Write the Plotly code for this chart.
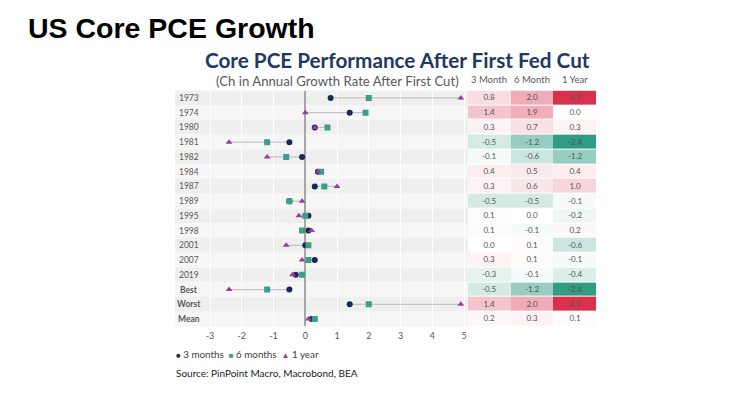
import plotly.graph_objects as go

rows = ["1973", "1974", "1980", "1981", "1982", "1984", "1987", "1989",
        "1995", "1998", "2001", "2007", "2019", "Best", "Worst", "Mean"]
m3 = [0.8, 1.4, 0.3, -0.5, -0.1, 0.4, 0.3, -0.5, 0.1, 0.1, 0.0, 0.3, -0.3, -0.5, 1.4, 0.2]
m6 = [2.0, 1.9, 0.7, -1.2, -0.6, 0.5, 0.6, -0.5, 0.0, -0.1, 0.1, 0.1, -0.1, -1.2, 2.0, 0.3]
y1 = [4.9, 0.0, 0.3, -2.4, -1.2, 0.4, 1.0, -0.1, -0.2, 0.2, -0.6, -0.1, -0.4, -2.4, 4.9, 0.1]
col_labels = ["3 Month", "6 Month", "1 Year"]
x_ticks = [-3, -2, -1, 0, 1, 2, 3, 4, 5]

OFF = 8  # browser default body margin
W, H = 730 - OFF, 397 - OFF
def px(x): return (x - OFF) / W
def py(y): return 1 - (y - OFF) / H

NAVY = "#1b2656"
TEAL = "#3a9f86"
PURPLE = "#973c9c"
FONT = "Lato"

idx = list(range(len(rows)))
fig = go.Figure()

# connecting lines
lx, ly = [], []
for i in idx:
    vals = [m3[i], m6[i], y1[i]]
    lx += [min(vals), max(vals), None]
    ly += [i, i, None]
fig.add_trace(go.Scatter(x=lx, y=ly, mode="lines", line=dict(color="#c4c4c4", width=1.3),
                         hoverinfo="skip", showlegend=False))
fig.add_trace(go.Scatter(x=m3, y=idx, mode="markers", name="3 months",
                         marker=dict(symbol="circle", size=6, color=NAVY), showlegend=False))
fig.add_trace(go.Scatter(x=m6, y=idx, mode="markers", name="6 months",
                         marker=dict(symbol="square", size=6, color=TEAL), showlegend=False))
fig.add_trace(go.Scatter(x=y1, y=idx, mode="markers", name="1 year",
                         marker=dict(symbol="triangle-up", size=6, color=PURPLE), showlegend=False))

# heatmap table
z = [[m3[i], m6[i], y1[i]] for i in idx]
txt = [[f"{v:.1f}" for v in r] for r in z]
zmin, zmax = -2.4, 4.9
mid = (0 - zmin) / (zmax - zmin)
fig.add_trace(go.Heatmap(
    z=z, x=[0, 1, 2], y=idx, xaxis="x2", yaxis="y",
    text=txt, texttemplate="%{text}", textfont=dict(size=8, color="#555555", family=FONT),
    colorscale=[[0, "#2f9c83"], [mid, "#ffffff"], [1, "#d9304c"]],
    zmin=zmin, zmax=zmax, showscale=False, xgap=0, ygap=1, hoverinfo="skip"))

# background bands
shapes = []
top, bot = 90.6, 326.4
rh = (bot - top) / len(rows)
for i in idx:
    shapes.append(dict(type="rect", xref="paper", yref="paper", layer="below",
                       x0=px(175), x1=px(468), y0=py(top + (i + 1) * rh), y1=py(top + i * rh),
                       fillcolor="#efefef" if i % 2 == 0 else "#f6f6f6", line=dict(width=0)))

annotations = []
for i, r in enumerate(rows):
    bold = r in ("Best", "Worst", "Mean")
    annotations.append(dict(x=px(189), y=py(top + (i + 0.5) * rh), xref="paper", yref="paper",
                            text=f"<b>{r}</b>" if bold else r, showarrow=False,
                            xanchor="center", yanchor="middle",
                            font=dict(size=8.5, color="#595959", family=FONT)))
for j, c in enumerate(col_labels):
    annotations.append(dict(x=j, y=py(79), xref="x2", yref="paper", text=c, showarrow=False,
                            xanchor="center", yanchor="middle",
                            font=dict(size=9.5, color="#595959", family=FONT)))

annotations += [
    dict(x=px(26), y=py(28), xref="paper", yref="paper", text="<b>US Core PCE Growth</b>",
         showarrow=False, xanchor="left", yanchor="middle",
         font=dict(size=28.5, color="#000000", family="Liberation Sans")),
    dict(x=px(398), y=py(60), xref="paper", yref="paper",
         text="<b>Core PCE Performance After First Fed Cut</b>", showarrow=False,
         xanchor="center", yanchor="middle", font=dict(size=20.7, color="#1f3864", family=FONT)),
    dict(x=px(337), y=py(81), xref="paper", yref="paper",
         text="(Ch in Annual Growth Rate After First Cut)", showarrow=False,
         xanchor="center", yanchor="middle", font=dict(size=13.2, color="#595959", family=FONT)),
    dict(x=px(174), y=py(354), xref="paper", yref="paper",
         text=(f"<span style='color:{NAVY};font-size:8px'>●</span> 3 months  "
               f"<span style='color:{TEAL};font-size:8px'>■</span> 6 months  "
               f"<span style='color:{PURPLE};font-size:8px'>▲</span> 1 year"),
         showarrow=False, xanchor="left", yanchor="middle",
         font=dict(size=9.8, color="#404040", family=FONT)),
    dict(x=px(174), y=py(373), xref="paper", yref="paper",
         text="Source: PinPoint Macro, Macrobond, BEA", showarrow=False,
         xanchor="left", yanchor="middle", font=dict(size=10, color="#222222", family=FONT)),
]

unit = (464 - 210) / 8
fig.update_layout(
    width=W, height=H, margin=dict(l=0, r=0, t=0, b=0),
    paper_bgcolor="white", plot_bgcolor="rgba(0,0,0,0)",
    showlegend=False, shapes=shapes, annotations=annotations,
    xaxis=dict(domain=[px(175), px(468)],
               range=[-3 - (210 - 175) / unit, 5 + (468 - 464) / unit],
               tickvals=x_ticks, ticktext=[str(t) for t in x_ticks],
               showgrid=True, gridcolor="#ffffff", gridwidth=1,
               zeroline=True, zerolinecolor="#a6a6a6", zerolinewidth=1.6,
               tickfont=dict(size=9, color="#595959", family=FONT), ticks="", showline=False,
               ticklabelstandoff=3, fixedrange=True),
    xaxis2=dict(domain=[px(468), px(596)], range=[-0.5, 2.5], anchor="y",
                showticklabels=False, showgrid=False, zeroline=False, fixedrange=True),
    yaxis=dict(domain=[py(bot), py(top)], range=[len(rows) - 0.5, -0.5],
               showticklabels=False, showgrid=False, zeroline=False, fixedrange=True),
)

fig.write_html("out.html")
